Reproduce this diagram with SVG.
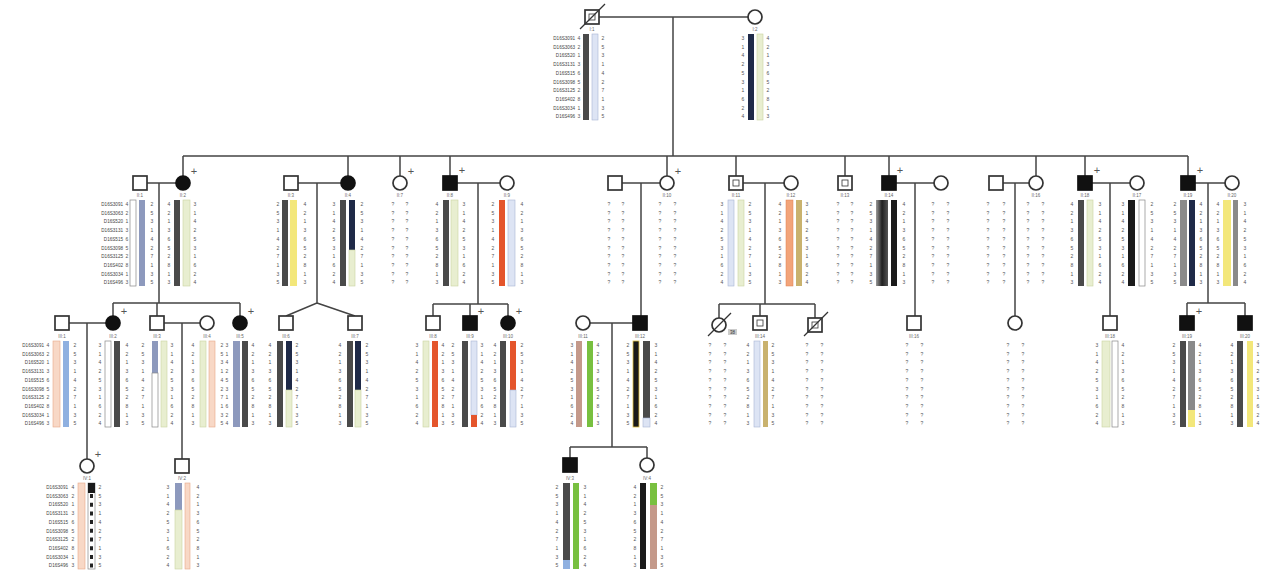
<svg xmlns="http://www.w3.org/2000/svg" width="1261" height="571" viewBox="0 0 1261 571">
<style>
text{font-family:"Liberation Sans",Arial,sans-serif}
.s{fill:#fff;stroke:#333;stroke-width:1.7}
.a{fill:#111;stroke:#111;stroke-width:1.7}
.ln{stroke:#444;stroke-width:1.5;fill:none}
.al{font-size:5px;fill:#555;text-anchor:middle}
.mk{font-size:4.6px;fill:#444;text-anchor:end}
.lb{font-size:4.5px;fill:#666;text-anchor:middle}
.pl{font-size:11px;fill:#555;text-anchor:middle}
.im{fill:none;stroke:#333;stroke-width:.8}
.dk{fill:#4a4a4a}.bk{fill:#1a1a1a}.nv{fill:#1f2a48}.gy{fill:#8a8a8a}
.lg{fill:#e8eed0;stroke:#c9d3a0;stroke-width:.6}
.lb2{fill:#dde4f4;stroke:#a8b4d4;stroke-width:.6}
.ye{fill:#f3e77a}.rd{fill:#e4552c}.bg{fill:#8d99bd}.bl{fill:#8fb0e0}
.pe{fill:#f8d8c6;stroke:#e6a888;stroke-width:.6}
.gr{fill:#78c040}.br{fill:#c4998a}.kh{fill:#c9b26e}
.or{fill:#f2a47a;stroke:#e08050;stroke-width:.5}
.wt{fill:#fff;stroke:#888;stroke-width:.7}
</style>
<defs>
<linearGradient id="gd" x1="0" x2="1" y1="0" y2="0"><stop offset="0" stop-color="#9a9a9a"/><stop offset=".5" stop-color="#202020"/><stop offset="1" stop-color="#555"/></linearGradient>
<g id="mk" class="mk"><text y="0">D16S3091</text><text y="8.7">D16S3063</text><text y="17.4">D16S520</text><text y="26.1">D16S3131</text><text y="34.8">D16S515</text><text y="43.5">D16S3098</text><text y="52.2">D16S3125</text><text y="60.9">D16S402</text><text y="69.6">D16S3034</text><text y="78.3">D16S496</text></g>
<g id="cA" class="al"><text y="0">4</text><text y="8.7">2</text><text y="17.4">1</text><text y="26.1">3</text><text y="34.8">6</text><text y="43.5">5</text><text y="52.2">2</text><text y="60.9">8</text><text y="69.6">1</text><text y="78.3">3</text></g>
<g id="cB" class="al"><text y="0">2</text><text y="8.7">5</text><text y="17.4">3</text><text y="26.1">1</text><text y="34.8">4</text><text y="43.5">2</text><text y="52.2">7</text><text y="60.9">1</text><text y="69.6">3</text><text y="78.3">5</text></g>
<g id="cC" class="al"><text y="0">3</text><text y="8.7">1</text><text y="17.4">4</text><text y="26.1">2</text><text y="34.8">5</text><text y="43.5">3</text><text y="52.2">1</text><text y="60.9">6</text><text y="69.6">2</text><text y="78.3">4</text></g>
<g id="cQ" class="al"><text y="0">?</text><text y="8.7">?</text><text y="17.4">?</text><text y="26.1">?</text><text y="34.8">?</text><text y="43.5">?</text><text y="52.2">?</text><text y="60.9">?</text><text y="69.6">?</text><text y="78.3">?</text></g>
</defs>
<rect width="1261" height="571" fill="#fff"/>
<g id="connectors" class="ln">
<path d="M599 17H748M673 17V156M183 156H1188M183 156V176M348 156V176M400 156V176M450 156V176M667 156V176M736 156V176M845 156V176M889 156V176M1036 156V176M1085 156V176M1188 156V176"/>
<path d="M147 183H176M298 183H341M457 183H500M622 183H660M743 183H784M896 183H934M1003 183H1029M1092 183H1130M1195 183H1225"/>
<path d="M159 183V303M113 303H240M113 303V316M157 303V316M240 303V316M317 183V303L286 316M317 303L355 316M478 183V304M433 304H508M433 304V316M470 304V316M508 304V316M641 183V316M765 183V304M719 304H815M719 304V318M760 304V316M815 304V318M915 183V316M1015 183V316M1110 183V316M1208 183V303M1187 303H1245M1187 303V316M1245 303V316"/>
<path d="M69 323H106M164 323H200M590 323H633M87 323V459M182 323V459M612 323V447M570 447H647M570 447V458M647 447V458"/>
</g>
<g id="I1"><rect class="s" x="585" y="10" width="14" height="14"/><rect class="im" x="589" y="14" width="6" height="6"/><line x1="580" y1="29" x2="605" y2="4" stroke="#333" stroke-width="1.2"/><text class="lb" x="592" y="31">I:1</text><use href="#mk" x="575" y="40"/><rect class="dk" x="583" y="34" width="6" height="86"/><rect class="lb2" x="592" y="34" width="6" height="86"/><use href="#cA" x="579" y="40"/><use href="#cB" x="603" y="40"/></g>
<g id="I2"><circle class="s" cx="755" cy="17" r="7"/><text class="lb" x="755" y="31">I:2</text><rect class="nv" x="748" y="34" width="6" height="86"/><rect class="lg" x="757" y="34" width="6" height="86"/><use href="#cC" x="743" y="40"/><use href="#cA" x="768" y="40"/></g>
<g id="II1"><rect class="s" x="133" y="176" width="14" height="14"/><text class="lb" x="140" y="197">II:1</text><use href="#mk" x="123" y="206"/><rect class="wt" x="130" y="200" width="6" height="86"/><rect class="bg" x="139" y="200" width="6" height="86"/><use href="#cA" x="127" y="206"/><use href="#cB" x="152" y="206"/></g>
<g id="II2"><circle class="a" cx="183" cy="183" r="7"/><text class="pl" x="194" y="175">+</text><text class="lb" x="183" y="197">II:2</text><rect class="dk" x="174" y="200" width="6" height="86"/><rect class="lg" x="183" y="200" width="7" height="86"/><use href="#cA" x="169" y="206"/><use href="#cC" x="195" y="206"/></g>
<g id="II3"><rect class="s" x="284" y="176" width="14" height="14"/><text class="lb" x="291" y="197">II:3</text><rect class="dk" x="282" y="200" width="6" height="86"/><rect class="ye" x="290" y="200" width="7" height="86"/><use href="#cB" x="278" y="206"/><use href="#cA" x="305" y="206"/></g>
<g id="II4"><circle class="a" cx="348" cy="183" r="7"/><text class="lb" x="348" y="197">II:4</text><rect class="dk" x="340" y="200" width="6" height="86"/><rect class="nv" x="349" y="200" width="6" height="50"/><rect class="lg" x="349" y="250" width="6" height="36"/><use href="#cC" x="334" y="206"/><use href="#cB" x="362" y="206"/></g>
<g id="II5"><circle class="s" cx="400" cy="183" r="7"/><text class="pl" x="411" y="175">+</text><text class="lb" x="400" y="197">II:7</text><use href="#cQ" x="393" y="206"/><use href="#cQ" x="407" y="206"/></g>
<g id="II6"><rect class="a" x="443" y="176" width="14" height="14"/><text class="pl" x="462" y="174">+</text><text class="lb" x="450" y="197">II:8</text><rect class="dk" x="443" y="200" width="6" height="86"/><rect class="lg" x="451" y="200" width="7" height="86"/><use href="#cA" x="437" y="206"/><use href="#cC" x="464" y="206"/></g>
<g id="II7"><circle class="s" cx="507" cy="183" r="7"/><text class="lb" x="507" y="197">II:9</text><rect class="rd" x="499" y="200" width="6" height="86"/><rect class="lb2" x="508" y="200" width="7" height="86"/><use href="#cB" x="493" y="206"/><use href="#cA" x="522" y="206"/></g>
<g id="II8"><rect class="s" x="608" y="176" width="14" height="14"/><use href="#cQ" x="609" y="206"/><use href="#cQ" x="623" y="206"/></g>
<g id="II9"><circle class="s" cx="667" cy="183" r="7"/><text class="pl" x="678" y="175">+</text><text class="lb" x="667" y="197">II:10</text><use href="#cQ" x="660" y="206"/><use href="#cQ" x="675" y="206"/></g>
<g id="II10"><rect class="s" x="729" y="176" width="14" height="14"/><rect class="im" x="733" y="180" width="6" height="6"/><text class="lb" x="736" y="197">II:11</text><rect class="lb2" x="728" y="200" width="6" height="86"/><rect class="lg" x="738" y="200" width="6" height="86"/><use href="#cC" x="722" y="206"/><use href="#cB" x="750" y="206"/></g>
<g id="II11"><circle class="s" cx="791" cy="183" r="7"/><text class="lb" x="791" y="197">II:12</text><rect class="or" x="786" y="200" width="7" height="86"/><rect class="kh" x="796" y="200" width="6" height="86"/><use href="#cA" x="780" y="206"/><use href="#cC" x="807" y="206"/></g>
<g id="II12"><rect class="s" x="838" y="176" width="14" height="14"/><rect class="im" x="842" y="180" width="6" height="6"/><text class="lb" x="845" y="197">II:13</text><use href="#cQ" x="838" y="206"/><use href="#cQ" x="852" y="206"/></g>
<g id="II13"><rect class="a" x="882" y="176" width="14" height="14"/><text class="pl" x="900" y="174">+</text><text class="lb" x="889" y="197">II:14</text><rect x="876" y="200" width="12" height="86" fill="url(#gd)"/><rect class="bk" x="891" y="200" width="6" height="86"/><use href="#cB" x="871" y="206"/><use href="#cA" x="904" y="206"/></g>
<g id="II14"><circle class="s" cx="941" cy="183" r="7"/><use href="#cQ" x="933" y="206"/><use href="#cQ" x="948" y="206"/></g>
<g id="II15"><rect class="s" x="989" y="176" width="14" height="14"/><use href="#cQ" x="988" y="206"/><use href="#cQ" x="1004" y="206"/></g>
<g id="II16"><circle class="s" cx="1036" cy="183" r="7"/><text class="lb" x="1036" y="197">II:16</text><use href="#cQ" x="1028" y="206"/><use href="#cQ" x="1043" y="206"/></g>
<g id="II17"><rect class="a" x="1078" y="176" width="14" height="14"/><text class="pl" x="1097" y="174">+</text><text class="lb" x="1085" y="197">II:18</text><rect class="dk" x="1078" y="200" width="6" height="86"/><rect class="lg" x="1087" y="200" width="6" height="86"/><use href="#cA" x="1072" y="206"/><use href="#cC" x="1100" y="206"/></g>
<g id="II18"><circle class="s" cx="1137" cy="183" r="7"/><text class="lb" x="1137" y="197">II:17</text><rect class="bk" x="1128" y="200" width="7" height="86"/><rect class="wt" x="1139" y="200" width="6" height="86"/><use href="#cC" x="1123" y="206"/><use href="#cB" x="1152" y="206"/></g>
<g id="II19"><rect class="a" x="1181" y="176" width="14" height="14"/><text class="pl" x="1200" y="174">+</text><text class="lb" x="1188" y="197">II:19</text><rect class="gy" x="1180" y="200" width="7" height="86"/><rect class="nv" x="1189" y="200" width="6" height="86"/><use href="#cB" x="1175" y="206"/><use href="#cA" x="1201" y="206"/></g>
<g id="II20"><circle class="s" cx="1232" cy="183" r="7"/><text class="lb" x="1232" y="197">II:20</text><rect class="ye" x="1223" y="200" width="8" height="86"/><rect class="gy" x="1233" y="200" width="5" height="86"/><use href="#cA" x="1218" y="206"/><use href="#cC" x="1245" y="206"/></g>
<g id="III1"><rect class="s" x="55" y="316" width="14" height="14"/><text class="lb" x="62" y="338">III:1</text><use href="#mk" x="44" y="347"/><rect class="pe" x="53" y="341" width="7" height="86"/><rect class="bl" x="63" y="341" width="6" height="86"/><use href="#cA" x="48" y="347"/><use href="#cB" x="75" y="347"/></g>
<g id="III2"><circle class="a" cx="113" cy="323" r="7"/><text class="pl" x="124" y="315">+</text><text class="lb" x="113" y="338">III:2</text><rect class="wt" x="105" y="341" width="6" height="86"/><rect class="dk" x="114" y="341" width="6" height="86"/><use href="#cC" x="100" y="347"/><use href="#cA" x="127" y="347"/></g>
<g id="III3"><rect class="s" x="150" y="316" width="14" height="14"/><text class="lb" x="157" y="338">III:3</text><rect class="bg" x="152" y="341" width="6" height="32"/><rect class="wt" x="152" y="373" width="6" height="54"/><rect class="lg" x="161" y="341" width="6" height="86"/><use href="#cB" x="143" y="347"/><use href="#cC" x="172" y="347"/></g>
<g id="III4"><circle class="s" cx="207" cy="323" r="7"/><text class="lb" x="207" y="338">III:4</text><rect class="lg" x="200" y="341" width="6" height="86"/><rect class="pe" x="209" y="341" width="6" height="86"/><use href="#cA" x="193" y="347"/><use href="#cB" x="222" y="347"/></g>
<g id="III5"><circle class="a" cx="240" cy="323" r="7"/><text class="pl" x="251" y="315">+</text><text class="lb" x="240" y="338">III:5</text><rect class="bg" x="233" y="341" width="7" height="86"/><rect class="dk" x="242" y="341" width="6" height="86"/><use href="#cC" x="227" y="347"/><use href="#cA" x="253" y="347"/></g>
<g id="III6"><rect class="s" x="279" y="316" width="14" height="14"/><text class="lb" x="286" y="338">III:6</text><rect class="dk" x="277" y="341" width="6" height="86"/><rect class="nv" x="286" y="341" width="6" height="49"/><rect class="lg" x="286" y="390" width="6" height="37"/><use href="#cA" x="270" y="347"/><use href="#cB" x="297" y="347"/></g>
<g id="III7"><rect class="s" x="348" y="316" width="14" height="14"/><text class="lb" x="355" y="338">III:7</text><rect class="dk" x="347" y="341" width="6" height="86"/><rect class="nv" x="355" y="341" width="6" height="49"/><rect class="lg" x="355" y="390" width="6" height="37"/><use href="#cA" x="340" y="347"/><use href="#cB" x="367" y="347"/></g>
<g id="III8"><rect class="s" x="426" y="316" width="14" height="14"/><text class="lb" x="433" y="338">III:8</text><rect class="lg" x="423" y="341" width="6" height="86"/><rect class="rd" x="432" y="341" width="6" height="86"/><use href="#cC" x="417" y="347"/><use href="#cA" x="443" y="347"/></g>
<g id="III9"><rect class="a" x="463" y="316" width="14" height="14"/><text class="pl" x="481" y="315">+</text><text class="lb" x="470" y="338">III:9</text><rect class="dk" x="462" y="341" width="6" height="86"/><rect class="lb2" x="471" y="341" width="6" height="74"/><rect class="rd" x="471" y="415" width="6" height="12"/><use href="#cB" x="453" y="347"/><use href="#cC" x="482" y="347"/></g>
<g id="III10"><circle class="a" cx="508" cy="323" r="7"/><text class="pl" x="519" y="315">+</text><text class="lb" x="508" y="338">III:10</text><rect class="dk" x="500" y="341" width="6" height="86"/><rect class="rd" x="510" y="341" width="6" height="49"/><rect class="lb2" x="510" y="390" width="6" height="37"/><use href="#cA" x="495" y="347"/><use href="#cB" x="522" y="347"/></g>
<g id="III11"><circle class="s" cx="583" cy="323" r="7"/><text class="lb" x="583" y="338">III:11</text><rect class="br" x="576" y="341" width="6" height="86"/><rect class="gr" x="587" y="341" width="6" height="86"/><use href="#cC" x="572" y="347"/><use href="#cA" x="598" y="347"/></g>
<g id="III12"><rect class="a" x="633" y="316" width="14" height="14"/><text class="lb" x="640" y="338">III:12</text><rect x="633" y="341" width="6" height="86" fill="#1a1a1a" stroke="#e0c040" stroke-width=".8"/><rect class="dk" x="643" y="341" width="7" height="77"/><rect class="lb2" x="643" y="418" width="7" height="9"/><use href="#cB" x="628" y="347"/><use href="#cC" x="656" y="347"/></g>
<g id="III13"><circle class="s" cx="719" cy="325" r="7"/><line x1="708" y1="336" x2="731" y2="313" stroke="#333" stroke-width="1.2"/><rect x="728" y="329" width="9" height="6" fill="#ccc"/><text x="732.5" y="334" font-size="4.5" fill="#333" text-anchor="middle">38</text><use href="#cQ" x="710" y="347"/><use href="#cQ" x="725" y="347"/></g>
<g id="III14"><rect class="s" x="753" y="316" width="14" height="14"/><rect class="im" x="757" y="320" width="6" height="6"/><text class="lb" x="760" y="338">III:14</text><rect class="lb2" x="754" y="341" width="6" height="86"/><rect class="kh" x="763" y="341" width="5" height="86"/><use href="#cA" x="748" y="347"/><use href="#cB" x="773" y="347"/></g>
<g id="III15"><rect class="s" x="808" y="318" width="14" height="14"/><rect class="im" x="812" y="322" width="6" height="6"/><line x1="804" y1="336" x2="828" y2="312" stroke="#333" stroke-width="1.2"/><use href="#cQ" x="807" y="347"/><use href="#cQ" x="822" y="347"/></g>
<g id="III16"><rect class="s" x="907" y="316" width="14" height="14"/><text class="lb" x="914" y="338">III:16</text><use href="#cQ" x="907" y="347"/><use href="#cQ" x="922" y="347"/></g>
<g id="III17"><circle class="s" cx="1015" cy="323" r="7"/><use href="#cQ" x="1008" y="347"/><use href="#cQ" x="1023" y="347"/></g>
<g id="III18"><rect class="s" x="1103" y="316" width="14" height="14"/><text class="lb" x="1110" y="338">III:18</text><rect class="lg" x="1102" y="341" width="8" height="86"/><rect class="wt" x="1112" y="341" width="6" height="86"/><use href="#cC" x="1097" y="347"/><use href="#cA" x="1123" y="347"/></g>
<g id="III19"><rect class="a" x="1180" y="316" width="14" height="14"/><text class="pl" x="1199" y="315">+</text><text class="lb" x="1187" y="338">III:19</text><rect class="dk" x="1180" y="341" width="6" height="86"/><rect class="gy" x="1188" y="341" width="7" height="69"/><rect class="ye" x="1188" y="410" width="7" height="17"/><use href="#cB" x="1174" y="347"/><use href="#cA" x="1200" y="347"/></g>
<g id="III20"><rect class="a" x="1238" y="316" width="14" height="14"/><text class="lb" x="1245" y="338">III:20</text><rect class="dk" x="1237" y="341" width="6" height="86"/><rect class="ye" x="1247" y="341" width="6" height="86"/><use href="#cA" x="1232" y="347"/><use href="#cC" x="1258" y="347"/></g>
<g id="IV1"><circle class="s" cx="87" cy="466" r="7"/><text class="pl" x="98" y="458">+</text><text class="lb" x="87" y="480">IV:1</text><use href="#mk" x="68" y="489"/><rect class="pe" x="78" y="483" width="7" height="86"/><rect class="wt" x="88" y="483" width="7" height="86"/><rect class="bk" x="88" y="483" width="7" height="10"/><line x1="91.5" y1="494" x2="91.5" y2="569" stroke="#222" stroke-width="3" stroke-dasharray="4 4.7"/><use href="#cA" x="73" y="489"/><use href="#cB" x="100" y="489"/></g>
<g id="IV2"><rect class="s" x="175" y="459" width="14" height="14"/><text class="lb" x="182" y="480">IV:2</text><rect class="bg" x="175" y="483" width="7" height="27"/><rect class="lg" x="175" y="510" width="7" height="59"/><rect class="pe" x="185" y="483" width="5" height="86"/><use href="#cC" x="168" y="489"/><use href="#cA" x="198" y="489"/></g>
<g id="IV3"><rect class="a" x="563" y="458" width="14" height="14"/><text class="lb" x="570" y="480">IV:3</text><rect class="dk" x="563" y="483" width="7" height="77"/><rect class="bl" x="563" y="560" width="7" height="9"/><rect class="gr" x="573" y="483" width="6" height="86"/><use href="#cB" x="557" y="489"/><use href="#cC" x="585" y="489"/></g>
<g id="IV4"><circle class="s" cx="647" cy="465" r="7"/><text class="lb" x="647" y="480">IV:4</text><rect class="bk" x="640" y="483" width="6" height="86"/><rect class="gr" x="650" y="483" width="7" height="22"/><rect class="br" x="650" y="505" width="7" height="64"/><use href="#cA" x="635" y="489"/><use href="#cB" x="662" y="489"/></g>
</svg>
